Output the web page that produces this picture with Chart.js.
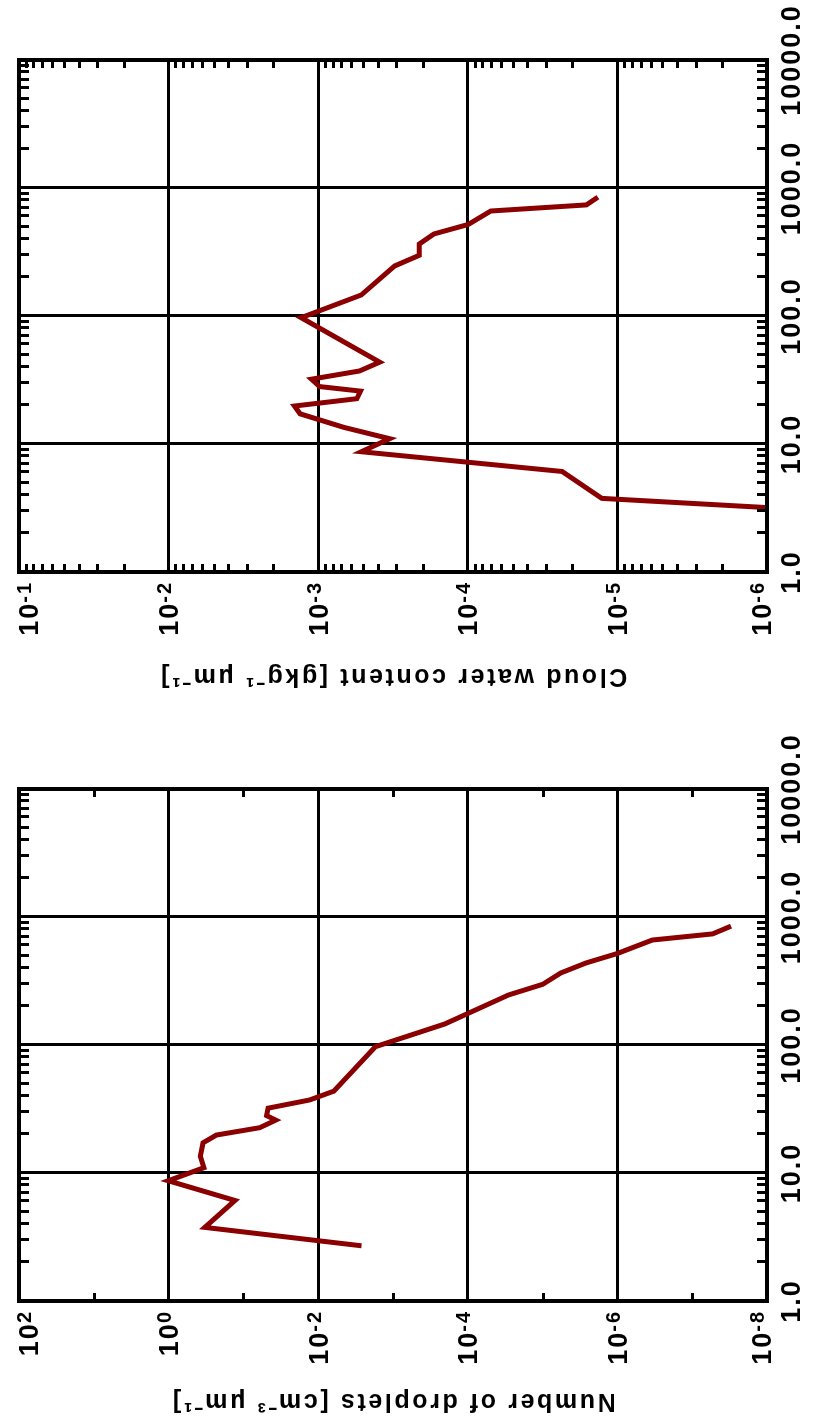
<!DOCTYPE html>
<html>
<head>
<meta charset="utf-8">
<script src="https://cdn.jsdelivr.net/npm/chart.js@4.4.1/dist/chart.umd.min.js"></script>
<style>
  html, body { margin: 0; padding: 0; background: #ffffff; overflow: hidden; width: 817px; height: 1427px; }
  #rot { position: absolute; left: 0; top: 0; width: 1427px; height: 817px;
         transform-origin: 0 0; transform: translate(0px, 1427px) rotate(-90deg); }
  canvas { position: absolute; top: 0; }
  #cNumber { left: 0px; }
  #cWater { left: 729px; }
</style>
</head>
<body>
<div id="rot">
  <canvas id="cNumber" width="698" height="817"></canvas>
  <canvas id="cWater" width="698" height="817"></canvas>
</div>
<script>
// ---- data (droplet diameter in micrometres) ----
const diameters = [2.7, 3.76, 6.1, 8.7, 11.0, 13.5, 17.2, 19.8, 22.6, 25.9, 28.1, 32.1, 37.2, 43.6, 97, 146, 246, 298, 365, 437, 519, 661, 738, 848];
const dropletNumber = [2.64e-3, 0.328, 0.130, 1.01, 0.338, 0.376, 0.346, 0.229, 0.0603, 0.0369, 0.0491, 0.0468, 0.0130, 6.19e-3, 1.72e-3, 2.03e-4, 2.85e-5, 9.95e-6, 5.74e-6, 2.65e-6, 1.0e-6, 3.40e-7, 5.33e-8, 3.03e-8];
const cloudWater = [7.9e-8, 1.27e-5, 2.34e-5, 5.15e-4, 3.33e-4, 6.76e-4, 1.32e-3, 1.44e-3, 5.51e-4, 5.21e-4, 9.8e-4, 1.11e-3, 5.30e-4, 3.88e-4, 1.30e-3, 5.15e-4, 3.08e-4, 2.11e-4, 2.11e-4, 1.69e-4, 9.93e-5, 7.03e-5, 1.61e-5, 1.35e-5];

// ---- ticks ----
const sizeTicks = [1, 10, 100, 1000, 10000];
const sizeTickLabels = ['1.0', '10.0', '100.0', '1000.0', '10000.0'];
const numberTicks = [1e-8, 1e-6, 1e-4, 1e-2, 1e0, 1e2];
const numberTickExponents = ['-8', '-6', '-4', '-2', '0', '2'];
const numberMinorTicks = [1e-7, 1e-5, 1e-3, 1e-1, 1e1];
const waterTicks = [1e-6, 1e-5, 1e-4, 1e-3, 1e-2, 1e-1];
const waterTickExponents = ['-6', '-5', '-4', '-3', '-2', '-1'];
const waterMinorMultipliers = [2, 3, 4, 5, 6, 7, 8, 9];
const sizeMinorMultipliers = [2, 3, 4, 5, 6, 7, 8, 9];

const numberTitle = 'Number of droplets [cm\u207B\u00B3 \u03BCm\u207B\u00B9]';
const waterTitle = 'Cloud water content [gkg\u207B\u00B9 \u03BCm\u207B\u00B9]';

const LINE_COLOR = '#8b0000';
const FONT_FAMILY = "'Liberation Sans', Arial, Helvetica, sans-serif";

function decadeMinors(min, max, mults) {
  const out = [];
  for (let d = Math.round(Math.log10(min)); d < Math.round(Math.log10(max)); d++) {
    mults.forEach(m => out.push(m * Math.pow(10, d)));
  }
  return out;
}

const framePlugin = {
  id: 'frame',
  beforeDraw(chart) { chart.ctx.letterSpacing = '2.6px'; },
  afterDatasetsDraw(chart) { chart.ctx.letterSpacing = '2px'; },
  afterDraw(chart, args, opts) {
    const {ctx, chartArea: a, scales} = chart;
    ctx.save();
    ctx.strokeStyle = '#000';
    ctx.lineWidth = 3;
    ctx.lineCap = 'butt';
    ctx.beginPath();
    // minor ticks on the size axis (top and bottom edges)
    opts.xMinor.forEach(v => {
      const px = Math.round(scales.x.getPixelForValue(v)) + 0.5;
      ctx.moveTo(px, a.top); ctx.lineTo(px, a.top + 10);
      ctx.moveTo(px, a.bottom); ctx.lineTo(px, a.bottom - 10);
    });
    // minor ticks on the value axis (left and right edges)
    opts.yMinor.forEach(v => {
      const py = Math.round(scales.y.getPixelForValue(v)) + 0.5;
      ctx.moveTo(a.left, py); ctx.lineTo(a.left + 8, py);
      ctx.moveTo(a.right, py); ctx.lineTo(a.right - 8, py);
    });
    ctx.stroke();
    ctx.lineWidth = 4;
    ctx.strokeRect(a.left, a.top, a.right - a.left, a.bottom - a.top);

    // value-axis labels: "10" with a raised exponent
    ctx.fillStyle = '#000';
    ctx.textAlign = 'left';
    ctx.textBaseline = 'alphabetic';
    ctx.letterSpacing = '2px';
    const mainSize = 27, supSize = 20;
    const mainCap = 0.716 * mainSize, supCap = 0.716 * supSize;
    const R = a.left - 11;
    const n = opts.yLabelValues.length;
    opts.yLabelValues.forEach((v, i) => {
      let py = scales.y.getPixelForValue(v);
      if (i === n - 1) py += 9;      // top-most label nudged inside
      if (i === 0) py -= 6;          // bottom-most label nudged inside
      const exp = opts.yLabelExponents[i];
      ctx.font = 'bold ' + supSize + 'px ' + FONT_FAMILY;
      const supW = ctx.measureText(exp).width;
      ctx.font = 'bold ' + mainSize + 'px ' + FONT_FAMILY;
      const mainW = ctx.measureText('10').width;
      const xSup = R - supW + 2;
      const xMain = xSup - mainW + 1;
      const baseMain = py + mainCap / 2;
      ctx.fillText('10', xMain, baseMain);
      ctx.font = 'bold ' + supSize + 'px ' + FONT_FAMILY;
      const capTop = baseMain - mainCap - 2;
      ctx.fillText(exp, xSup, capTop + supCap);
    });
    ctx.restore();
  }
};

function makeChart(canvasId, values, yMin, yMax, yTicks, yExps, yMinor, title, titlePad) {
  const points = diameters.map((d, i) => ({x: d, y: values[i]}));
  return new Chart(document.getElementById(canvasId), {
    type: 'scatter',
    data: {
      datasets: [{
        data: points,
        showLine: true,
        borderColor: LINE_COLOR,
        backgroundColor: LINE_COLOR,
        borderWidth: 5,
        pointRadius: 0,
        tension: 0,
        borderJoinStyle: 'miter',
        borderCapStyle: 'butt',
        clip: 0
      }]
    },
    options: {
      responsive: false,
      animation: false,
      devicePixelRatio: 1,
      layout: { padding: { top: 19, right: 60, left: 0, bottom: 0 } },
      plugins: {
        legend: { display: false },
        tooltip: { enabled: false },
        frame: {
          xMinor: decadeMinors(1, 10000, sizeMinorMultipliers),
          yMinor: yMinor,
          yLabelValues: yTicks,
          yLabelExponents: yExps
        }
      },
      scales: {
        x: {
          type: 'logarithmic',
          min: 1, max: 10000,
          afterBuildTicks(scale) { scale.ticks = sizeTicks.map(v => ({value: v})); },
          afterFit(scale) { scale.height = 50; },
          ticks: {
            z: 1,
            autoSkip: false, maxRotation: 0, minRotation: 0, padding: 9,
            color: '#000',
            font: { family: FONT_FAMILY, size: 27, weight: 'bold' },
            callback(v) { const i = sizeTicks.indexOf(v); return i >= 0 ? sizeTickLabels[i] : ''; }
          },
          grid: { color: '#000', lineWidth: 3, drawTicks: false },
          border: { display: false }
        },
        y: {
          type: 'logarithmic',
          min: yMin, max: yMax,
          afterBuildTicks(scale) { scale.ticks = yTicks.map(v => ({value: v})); },
          afterFit(scale) { scale.width = 126; },
          ticks: { display: false },
          grid: { color: '#000', lineWidth: 3, drawTicks: false },
          border: { display: false },
          title: {
            display: true, text: title, color: '#000',
            font: { family: FONT_FAMILY, size: 25, weight: 'bold' },
            padding: { top: titlePad, bottom: 0 }
          }
        }
      }
    },
    plugins: [framePlugin]
  });
}

makeChart('cNumber', dropletNumber, 1e-8, 1e2, numberTicks, numberTickExponents, numberMinorTicks, numberTitle, 11);
makeChart('cWater', cloudWater, 1e-6, 1e-1, waterTicks, waterTickExponents, decadeMinors(1e-6, 1e-1, waterMinorMultipliers), waterTitle, 7);
</script>
</body>
</html>
